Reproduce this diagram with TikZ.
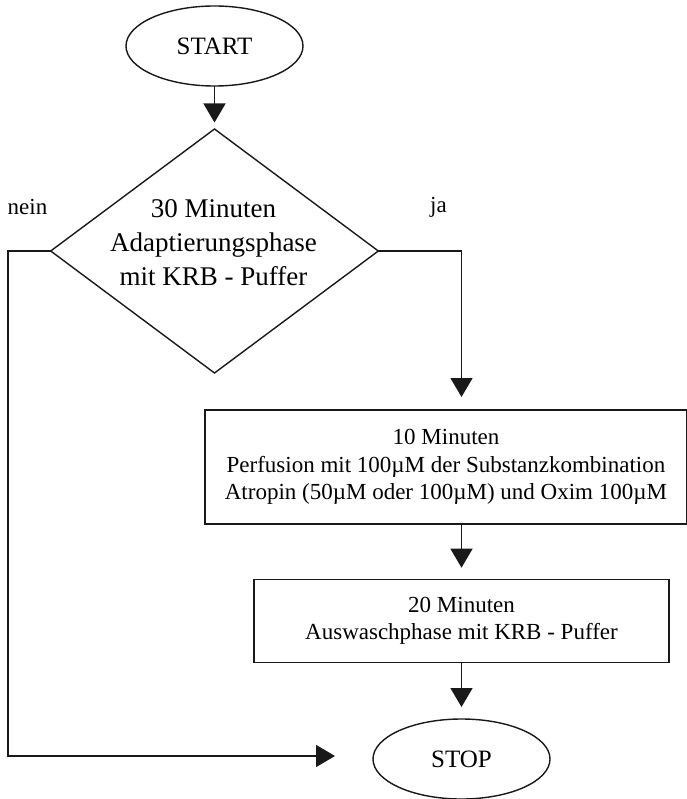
\documentclass[tikz,border=0pt]{standalone}
\usepackage{fontspec}
\setmainfont{Liberation Serif}
\usetikzlibrary{shapes.geometric,arrows.meta}
\begin{document}
\begin{tikzpicture}[x=1pt,y=-1pt,
  every node/.style={inner sep=0pt, outer sep=0pt},
  line/.style={line width=1.4pt, draw=black!90},
  arr/.style={line, -{Triangle[length=19pt,width=22pt]}},
  term/.style={ellipse, line, minimum width=177pt, minimum height=80pt,
    font=\fontsize{25}{30}\selectfont},
  decision/.style={diamond, line, minimum width=327.6pt, minimum height=244pt},
  stepbox/.style={rectangle, line, align=center,
    font=\fontsize{23}{27.5}\selectfont},
  lbl/.style={font=\fontsize{23}{27.5}\selectfont},
  dtxt/.style={align=center, font=\fontsize{27}{34}\selectfont}
]
\useasboundingbox (0,0) rectangle (686,799);

% terminals
\node[term] (start) at (214.5,46) {START};
\node[term] (stop) at (461.5,759) {STOP};

% decision
\node[decision] (d) at (214.5,251) {};
\node[dtxt] (dt) at (213.5,243) {30 Minuten\\Adaptierungsphase\\mit KRB - Puffer};

% branch labels
\node[lbl] (nein) at (27.5,207) {nein};
\node[lbl] (ja) at (438.5,207) {ja};

% process steps
\node[stepbox, minimum width=482pt, minimum height=114pt] (b1) at (446,467)
  {10 Minuten\\Perfusion mit 100µM der Substanzkombination\\Atropin (50µM oder 100µM) und Oxim 100µM};
\node[stepbox, minimum width=415pt, minimum height=83.4pt] (b2) at (461.5,621)
  {20 Minuten\\Auswaschphase mit KRB - Puffer};

% connectors
\coordinate (corner) at (8,756);
\coordinate (neinEnd) at (335,756);

\draw[arr, shorten >=6.5pt] (start.south) -- (d.north);
\draw[arr, shorten >=13pt] (d.east) -| (b1.north -| b2.north);
\draw[arr, shorten >=11.6pt] (b1.south -| b2.north) -- (b2.north);
\draw[arr, shorten >=12pt] (b2.south) -- (stop.north);
\draw[arr] (d.west) -| (corner) -- (neinEnd);
\end{tikzpicture}
\end{document}
